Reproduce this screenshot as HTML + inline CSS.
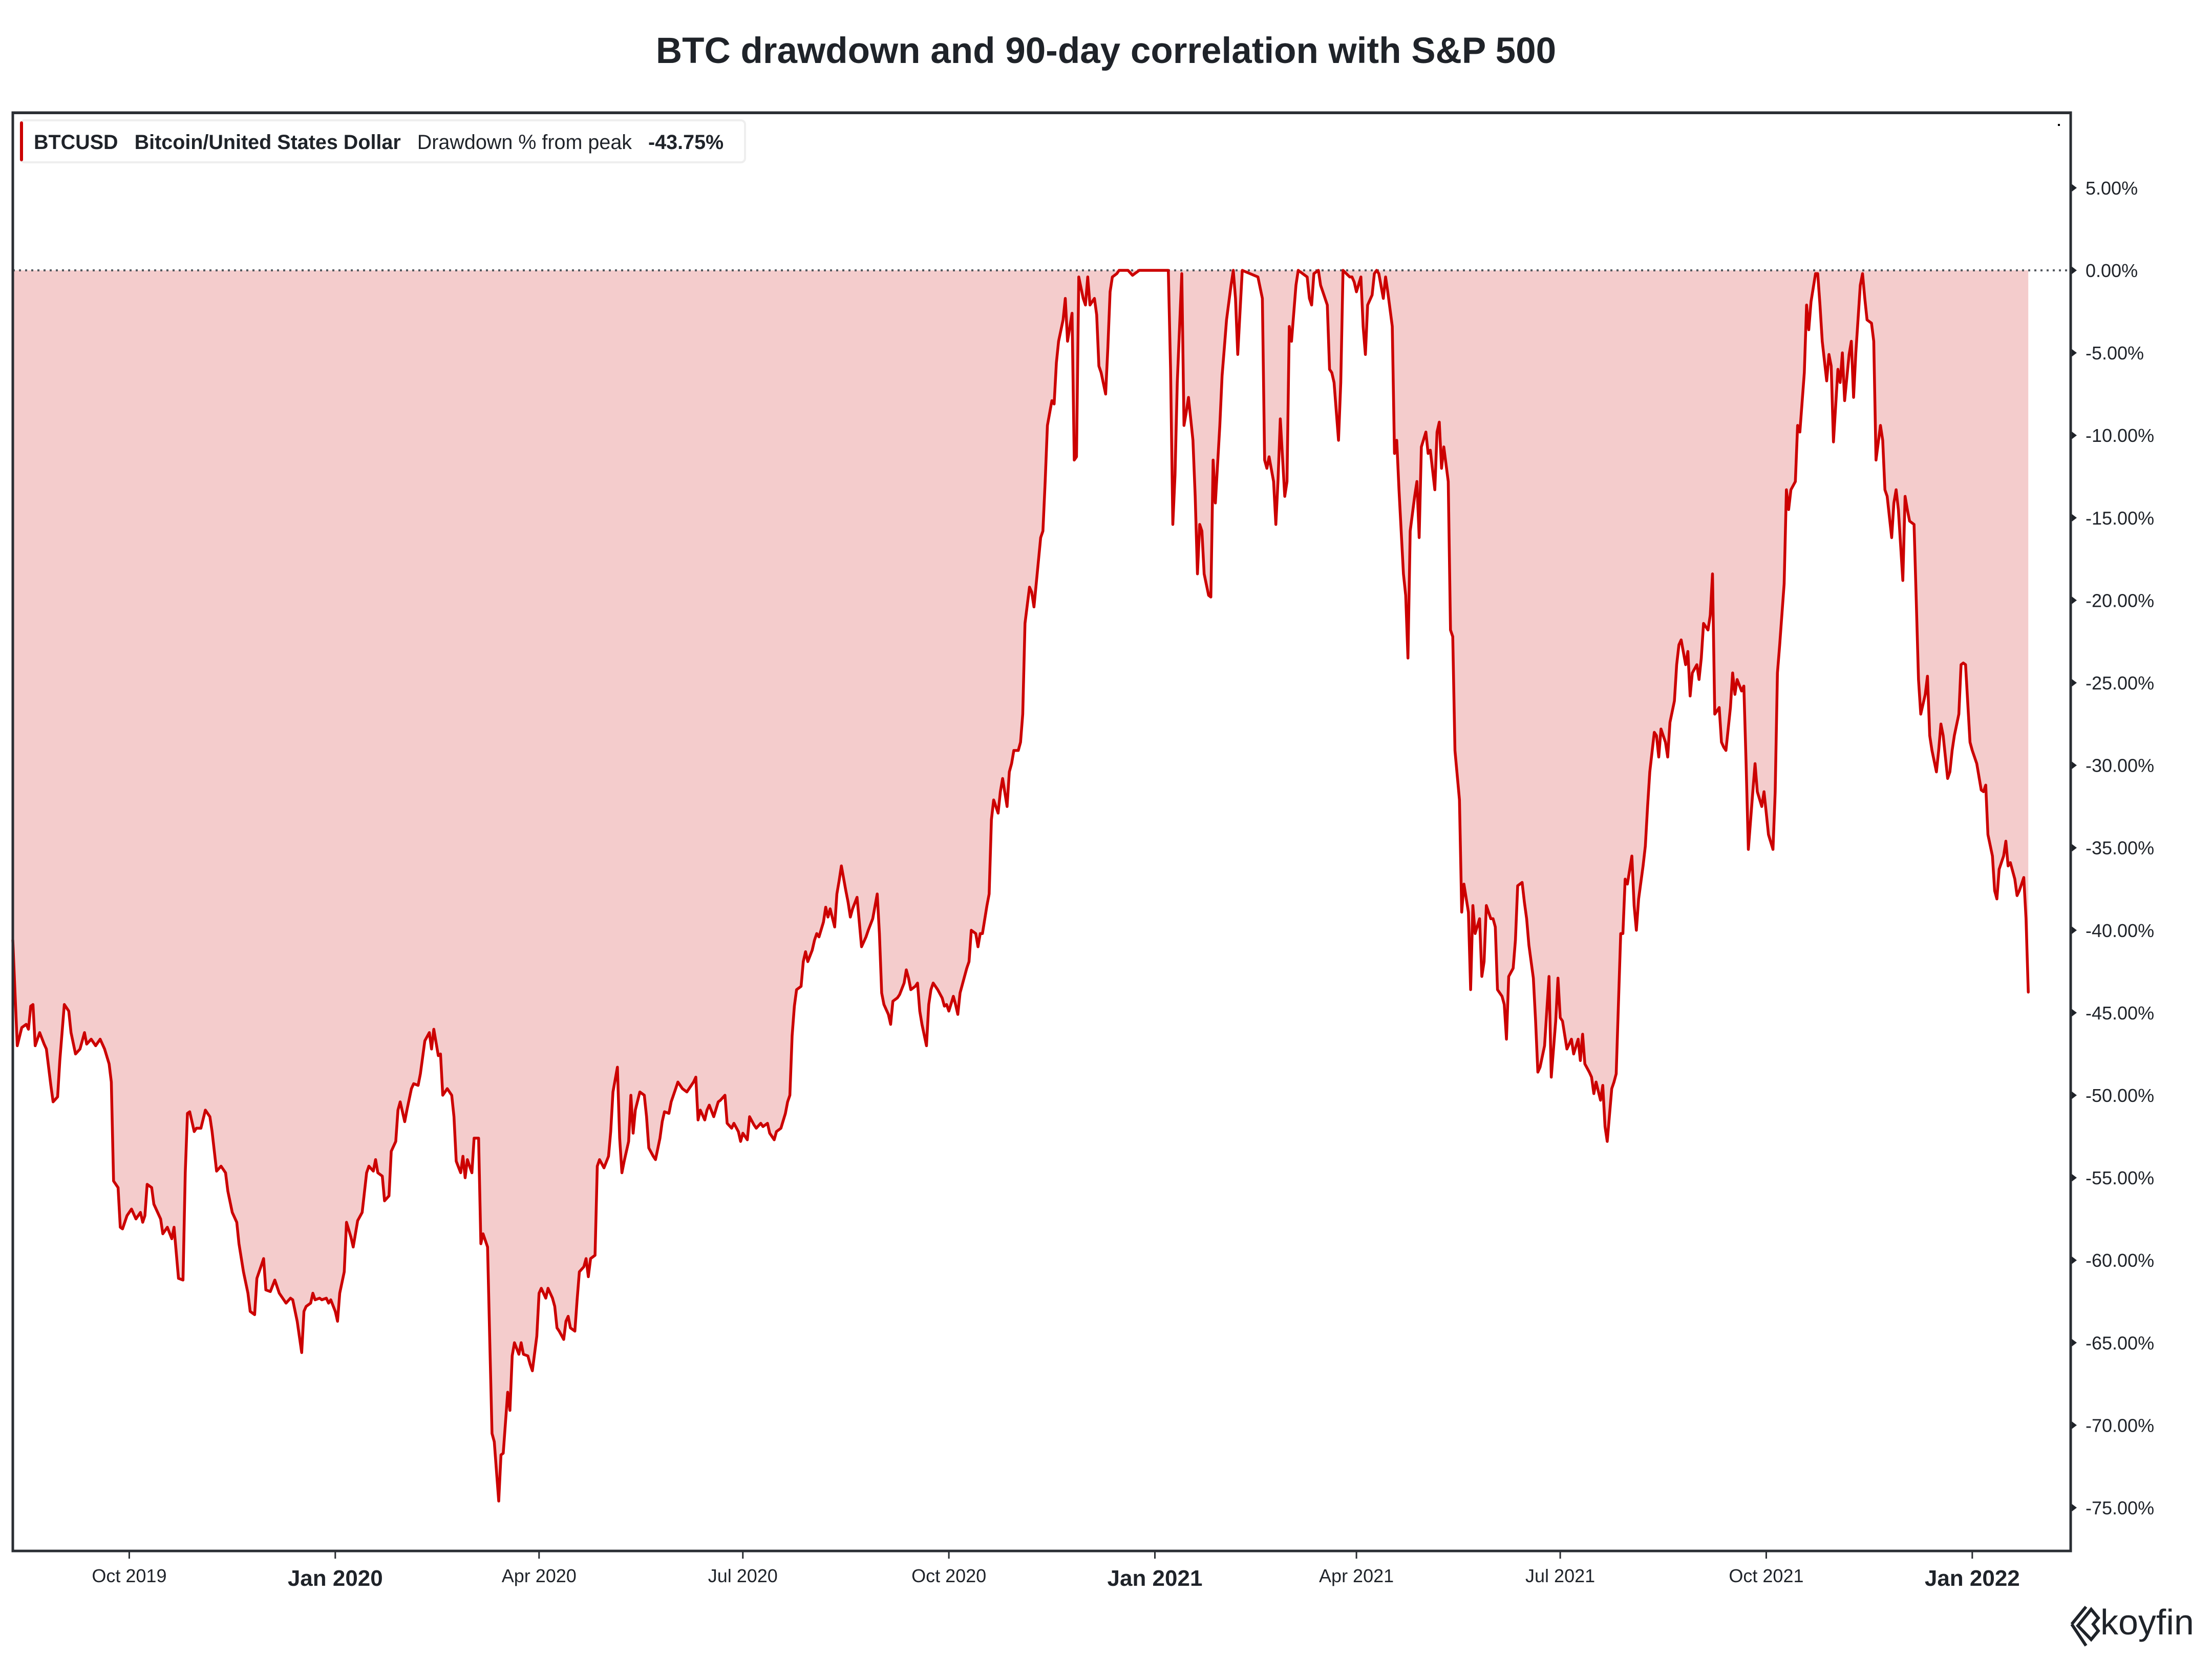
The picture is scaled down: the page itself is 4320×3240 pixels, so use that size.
<!DOCTYPE html>
<html><head><meta charset="utf-8"><style>
html,body{margin:0;padding:0;background:#fff;}
svg{display:block;font-family:"Liberation Sans",sans-serif;}
</style></head><body>
<svg id="chart" width="4320" height="3240" viewBox="0 0 4320 3240" xmlns="http://www.w3.org/2000/svg">
<rect width="4320" height="3240" fill="#fff"/>
<text x="2160" y="123" text-anchor="middle" font-size="71" font-weight="bold" fill="#1f2329">BTC drawdown and 90-day correlation with S&amp;P 500</text>
<g id="plot"></g>
<g id="axes"></g>
<rect x="25" y="220" width="4019" height="2809" fill="none" stroke="#2a2e33" stroke-width="5"/>
<rect x="25" y="218" width="4019" height="5" fill="#2a2e33"/>
<g>
<rect x="40" y="235" width="1415" height="82" rx="8" fill="#fff" stroke="#eeeeee" stroke-width="4"/>
<rect x="39" y="237" width="6" height="78" rx="3" fill="#cc0000"/>
<text x="66" y="291" font-size="39.5" fill="#1f2329"><tspan font-weight="bold">BTCUSD</tspan><tspan dx="32" font-weight="bold">Bitcoin/United States Dollar</tspan><tspan dx="32">Drawdown % from peak</tspan><tspan dx="32" font-weight="bold">-43.75%</tspan></text>
</g>
<rect x="4019" y="242" width="4" height="4" fill="#000"/>
<g>
<path d="M4058 3175 L4084 3143 L4098 3160 L4088 3172 L4098 3185 L4084 3202 Z" fill="none" stroke="#1f2329" stroke-width="6"/>
<path d="M4046 3172 L4074 3138 M4046 3172 L4074 3214" fill="none" stroke="#1f2329" stroke-width="6"/>
<text x="4102" y="3192" font-size="70" fill="#1f2329">koyfin</text>
</g>
</svg>
<script>
const startDate = "2019-08-10";
const dayOffsets = [0,2,4,6,7,8,9,10,12,14,15,17,18,20,21,23,25,26,28,30,32,33,35,37,39,41,43,44,45,47,48,49,51,53,55,57,58,59,60,62,63,64,66,67,69,71,72,74,76,77,78,79,81,82,84,86,88,89,91,93,95,96,98,100,101,103,105,106,108,109,111,112,113,115,117,118,119,121,122,124,125,127,129,130,131,133,134,135,137,138,140,141,142,144,145,146,148,149,151,152,154,156,158,159,161,162,163,165,166,168,169,171,172,173,175,176,178,179,181,182,184,186,187,188,190,191,192,194,196,197,198,200,201,202,203,205,206,208,209,210,212,213,214,215,217,218,219,221,222,223,224,226,227,228,230,231,232,234,235,236,238,239,241,242,243,244,246,247,248,249,251,252,253,255,256,257,258,260,261,262,264,266,267,268,270,271,272,273,275,276,277,278,280,282,283,284,286,287,289,290,291,293,294,296,297,299,301,302,304,305,306,307,309,310,311,313,315,316,318,319,321,322,324,325,326,328,329,331,332,334,335,337,338,340,341,343,345,346,347,348,349,350,352,353,354,355,357,358,359,360,362,363,364,365,367,368,369,370,372,373,374,375,377,379,381,382,384,386,387,388,389,391,392,393,395,396,398,399,400,401,403,404,405,406,408,409,410,411,413,415,416,417,418,420,421,422,423,425,426,427,428,430,431,432,433,435,436,437,438,440,441,442,444,445,446,447,449,450,451,452,454,455,456,457,459,460,461,462,464,465,466,467,469,470,471,473,474,475,476,478,479,480,481,483,484,485,486,488,489,490,491,493,494,498,500,501,503,516,517,518,519,520,522,523,524,525,527,528,529,530,531,532,534,535,536,537,539,540,541,542,544,545,546,547,549,556,558,559,560,561,563,564,565,566,568,569,570,571,573,574,576,578,579,580,581,583,584,585,587,588,589,590,592,593,594,597,598,599,600,602,603,604,605,607,608,609,610,612,613,614,616,617,618,619,621,622,623,624,626,627,628,629,631,632,633,635,636,637,638,639,641,642,643,644,646,647,648,650,651,652,653,655,656,657,658,660,661,662,663,665,666,667,668,670,671,672,674,675,676,677,679,680,681,682,684,685,686,687,689,690,691,692,694,695,696,697,699,700,701,702,704,705,706,707,709,710,711,712,714,715,716,718,719,720,721,723,724,725,726,728,729,730,731,733,734,735,736,738,739,740,742,743,744,745,747,748,749,750,752,753,754,755,757,758,759,760,762,763,764,765,767,768,769,770,772,773,774,775,777,778,779,781,782,783,784,786,787,788,789,791,792,793,794,796,797,798,800,801,802,803,805,806,807,808,810,811,812,813,815,816,817,818,820,821,822,823,825,826,827,828,830,831,832,834,835,836,837,839,840,841,842,844,845,846,847,849,850,851,852,854,855,856,857,859,860,861,862,864,865,866,867,869,870,871,872,874,875,876,877,879,880,881,882,884,885,886,887,889,890,891,892,894,895,896,898,899,900];
const drawdownPct = [-40.6,-47.0,-45.9,-45.7,-46.0,-44.6,-44.5,-47.0,-46.2,-46.9,-47.2,-49.4,-50.4,-50.1,-47.9,-44.5,-44.9,-46.2,-47.5,-47.2,-46.2,-46.9,-46.6,-47.0,-46.6,-47.2,-48.1,-49.2,-55.2,-55.6,-58.0,-58.1,-57.3,-56.9,-57.5,-57.1,-57.7,-57.3,-55.4,-55.6,-56.6,-56.9,-57.5,-58.4,-58.0,-58.7,-58.0,-61.1,-61.2,-54.7,-51.1,-51.0,-52.2,-52.0,-52.0,-50.9,-51.3,-52.2,-54.6,-54.3,-54.7,-55.8,-57.1,-57.7,-59.0,-60.7,-62.0,-63.1,-63.3,-61.1,-60.3,-59.9,-61.8,-61.9,-61.2,-61.6,-62.0,-62.4,-62.6,-62.3,-62.4,-63.7,-65.6,-63.1,-62.8,-62.6,-62.0,-62.4,-62.3,-62.4,-62.3,-62.6,-62.4,-63.1,-63.7,-62.0,-60.7,-57.7,-58.6,-59.2,-57.6,-57.1,-54.7,-54.3,-54.6,-53.9,-54.7,-54.9,-56.4,-56.1,-53.4,-52.8,-50.9,-50.4,-51.6,-50.9,-49.6,-49.3,-49.4,-48.7,-46.7,-46.2,-47.2,-46.0,-47.6,-47.5,-50.0,-49.6,-50.0,-51.3,-54.0,-54.7,-53.7,-55.0,-53.9,-54.7,-52.6,-52.6,-59.0,-58.4,-59.2,-65.0,-70.5,-71.0,-74.6,-71.8,-71.7,-68.0,-69.1,-65.8,-65.0,-65.7,-65.0,-65.7,-65.8,-66.3,-66.7,-64.6,-62.0,-61.7,-62.3,-61.7,-62.3,-62.8,-64.1,-64.3,-64.8,-63.7,-63.4,-64.1,-64.3,-62.4,-60.7,-60.4,-59.9,-61.0,-59.9,-59.7,-54.3,-53.9,-54.4,-53.7,-52.2,-49.8,-48.3,-52.6,-54.7,-54.0,-52.8,-50.0,-52.3,-50.9,-49.8,-50.0,-51.3,-53.2,-53.7,-53.9,-52.6,-51.6,-51.0,-51.1,-50.4,-49.6,-49.2,-49.6,-49.8,-49.6,-49.2,-48.9,-51.5,-50.9,-51.5,-50.9,-50.6,-51.3,-50.4,-50.3,-50.0,-51.7,-52.0,-51.7,-52.2,-52.8,-52.3,-52.7,-51.3,-51.8,-52.0,-51.7,-51.9,-51.7,-52.3,-52.7,-52.2,-52.0,-51.1,-50.4,-50.0,-46.4,-44.6,-43.6,-43.4,-41.9,-41.3,-41.9,-41.2,-40.6,-40.2,-40.4,-39.5,-38.6,-39.2,-38.7,-39.8,-37.8,-37.0,-36.1,-37.6,-38.3,-39.2,-38.7,-38.0,-41.0,-40.4,-40.0,-39.3,-37.8,-40.2,-43.8,-44.5,-45.1,-45.7,-44.3,-44.1,-43.9,-43.2,-42.4,-42.9,-43.6,-43.4,-43.2,-44.9,-45.7,-47.0,-44.5,-43.6,-43.2,-43.6,-44.1,-44.6,-44.5,-44.9,-44.0,-44.5,-45.1,-43.8,-42.8,-42.3,-41.9,-40.0,-40.2,-41.0,-40.2,-40.2,-38.5,-37.8,-33.3,-32.1,-32.9,-31.6,-30.8,-32.5,-30.4,-29.9,-29.1,-29.1,-28.6,-26.9,-21.4,-19.2,-19.5,-20.4,-19.0,-16.2,-15.8,-12.8,-9.4,-7.9,-8.1,-5.6,-4.3,-3.0,-1.7,-4.3,-2.6,-11.5,-11.3,-0.4,-1.7,-2.1,-0.4,-2.1,-1.7,-2.7,-5.8,-6.2,-7.5,-4.7,-1.3,-0.4,-0.2,0,0,-0.3,-0.2,0,0,-6.0,-15.4,-12.4,-6.8,-0.2,-9.4,-8.6,-7.7,-10.3,-13.7,-18.4,-15.4,-15.8,-18.4,-19.7,-19.8,-11.5,-14.1,-9.4,-6.4,-4.7,-3.0,-0.9,0,-1.7,-5.1,0,-0.4,-1.7,-11.5,-12.0,-11.3,-12.8,-15.4,-12.7,-9.0,-13.7,-12.8,-3.4,-4.3,-0.9,0,-0.2,-0.4,-1.7,-2.1,-0.2,0,-0.9,-1.3,-2.1,-6.0,-6.2,-6.8,-10.3,-6.8,0,-0.4,-0.4,-0.7,-1.3,-0.4,-3.4,-5.1,-2.1,-1.5,-0.2,0,-0.2,-1.7,-0.4,-1.3,-3.4,-11.1,-10.3,-13.3,-18.4,-19.7,-23.5,-15.8,-13.7,-12.8,-16.2,-10.7,-9.8,-11.1,-10.9,-13.3,-9.8,-9.2,-12.0,-10.7,-12.8,-21.8,-22.2,-29.1,-32.1,-38.9,-37.2,-38.9,-43.6,-38.5,-40.2,-39.3,-42.8,-41.9,-38.5,-39.3,-39.3,-39.8,-43.6,-44.0,-44.5,-46.6,-42.8,-42.3,-40.6,-37.3,-37.1,-38.3,-39.3,-40.9,-42.9,-45.5,-48.6,-48.3,-47.0,-44.9,-42.8,-48.9,-45.5,-42.9,-45.3,-45.5,-47.2,-46.9,-46.6,-47.5,-46.6,-47.9,-46.3,-48.1,-48.6,-48.9,-49.9,-49.2,-50.3,-49.4,-51.9,-52.8,-49.6,-49.2,-48.7,-40.2,-40.2,-36.9,-37.2,-35.5,-38.5,-40.0,-38.1,-36.1,-34.9,-32.5,-30.4,-28.0,-28.2,-29.5,-27.8,-28.6,-29.5,-27.4,-26.1,-23.9,-22.7,-22.4,-23.9,-23.1,-25.8,-24.4,-23.9,-24.8,-23.5,-21.4,-21.8,-20.9,-18.4,-26.9,-26.5,-28.6,-28.9,-29.1,-26.5,-24.4,-25.7,-24.8,-25.5,-25.2,-29.9,-35.1,-31.6,-29.9,-31.6,-32.5,-31.6,-32.9,-34.2,-35.1,-31.6,-24.4,-22.7,-19.0,-13.3,-14.5,-13.3,-12.8,-9.4,-9.8,-6.2,-2.1,-3.6,-1.9,-0.2,-0.2,-2.1,-4.3,-6.7,-5.1,-5.8,-10.4,-6.0,-6.8,-5.0,-7.9,-5.1,-4.3,-7.7,-5.0,-0.9,-0.2,-1.7,-3.0,-3.2,-4.3,-11.5,-9.4,-10.3,-13.3,-13.7,-16.2,-14.1,-13.3,-14.5,-18.8,-13.7,-14.5,-15.2,-15.4,-20.1,-24.8,-26.9,-25.7,-24.6,-28.2,-29.1,-30.4,-29.1,-27.5,-28.2,-30.8,-30.4,-29.1,-28.2,-26.9,-23.9,-23.8,-23.9,-28.6,-29.1,-29.5,-29.9,-31.5,-31.6,-31.2,-34.2,-35.5,-37.6,-38.1,-36.3,-35.5,-34.6,-36.1,-35.9,-36.9,-37.9,-37.6,-36.8,-39.3,-43.75];
const yTickValues = [5,0,-5,-10,-15,-20,-25,-30,-35,-40,-45,-50,-55,-60,-65,-70,-75];
const xTickDates = ["2019-10-01","2020-01-01","2020-04-01","2020-07-01","2020-10-01","2021-01-01","2021-04-01","2021-07-01","2021-10-01","2022-01-01"];
const xTickLabels = ["Oct 2019","Jan 2020","Apr 2020","Jul 2020","Oct 2020","Jan 2021","Apr 2021","Jul 2021","Oct 2021","Jan 2022"];
const xTickBold = [false,true,false,false,false,true,false,false,false,true];

const NS = "http://www.w3.org/2000/svg";
const X0 = 25, PXD = 4.3735, Y0 = 528, PXP = 32.22, FRAME_R = 4044, FRAME_B = 3029;
function xDay(d){ return X0 + d*PXD; }
function yVal(v){ return Y0 - v*PXP; }
function dayOf(s){ return Math.round((Date.parse(s) - Date.parse(startDate))/86400000); }
function mk(tag, attrs){ const e=document.createElementNS(NS,tag); for(const k in attrs) e.setAttribute(k,attrs[k]); return e; }

const plot = document.getElementById("plot");
const axes = document.getElementById("axes");

let pts = dayOffsets.map((d,i)=> xDay(d).toFixed(1)+","+yVal(drawdownPct[i]).toFixed(1));
const lastX = xDay(dayOffsets[dayOffsets.length-1]).toFixed(1);
const area = mk("path",{d:"M"+X0+","+Y0+" L"+pts.join(" L")+" L"+lastX+","+Y0+" Z", fill:"#f4cccc"});


plot.appendChild(area);

const zero = mk("line",{x1:X0,x2:FRAME_R,y1:yVal(0),y2:yVal(0),stroke:"#555a60","stroke-width":4,"stroke-dasharray":"4 8"});


plot.appendChild(zero);

const line = mk("polyline",{points:pts.join(" "),fill:"none",stroke:"#cc0000","stroke-width":5.5,"stroke-linejoin":"round","stroke-linecap":"round"});


plot.appendChild(line);

yTickValues.forEach(v=>{
  const y = yVal(v);
  const tri = mk("path",{d:`M${FRAME_R} ${y-9} L${FRAME_R+12} ${y} L${FRAME_R} ${y+9} Z`,fill:"#1f2329"});
  
  
  axes.appendChild(tri);
  const t = mk("text",{x:4073,y:y+13,"font-size":36,fill:"#1f2329"});
  
  
  t.textContent = v.toFixed(2)+"%";
  axes.appendChild(t);
});

xTickDates.forEach((s,i)=>{
  const x = xDay(dayOf(s));
  const tk = mk("line",{x1:x,x2:x,y1:FRAME_B,y2:FRAME_B+15,stroke:"#2a2e33","stroke-width":3});
  
  
  axes.appendChild(tk);
  const t = mk("text",{x:x,y:xTickBold[i]?3097:3090,"text-anchor":"middle","font-size":xTickBold[i]?44:36,"font-weight":xTickBold[i]?"bold":"normal",fill:"#1f2329"});
  
  
  t.textContent = xTickLabels[i];
  axes.appendChild(t);
});
</script>
</body></html>
